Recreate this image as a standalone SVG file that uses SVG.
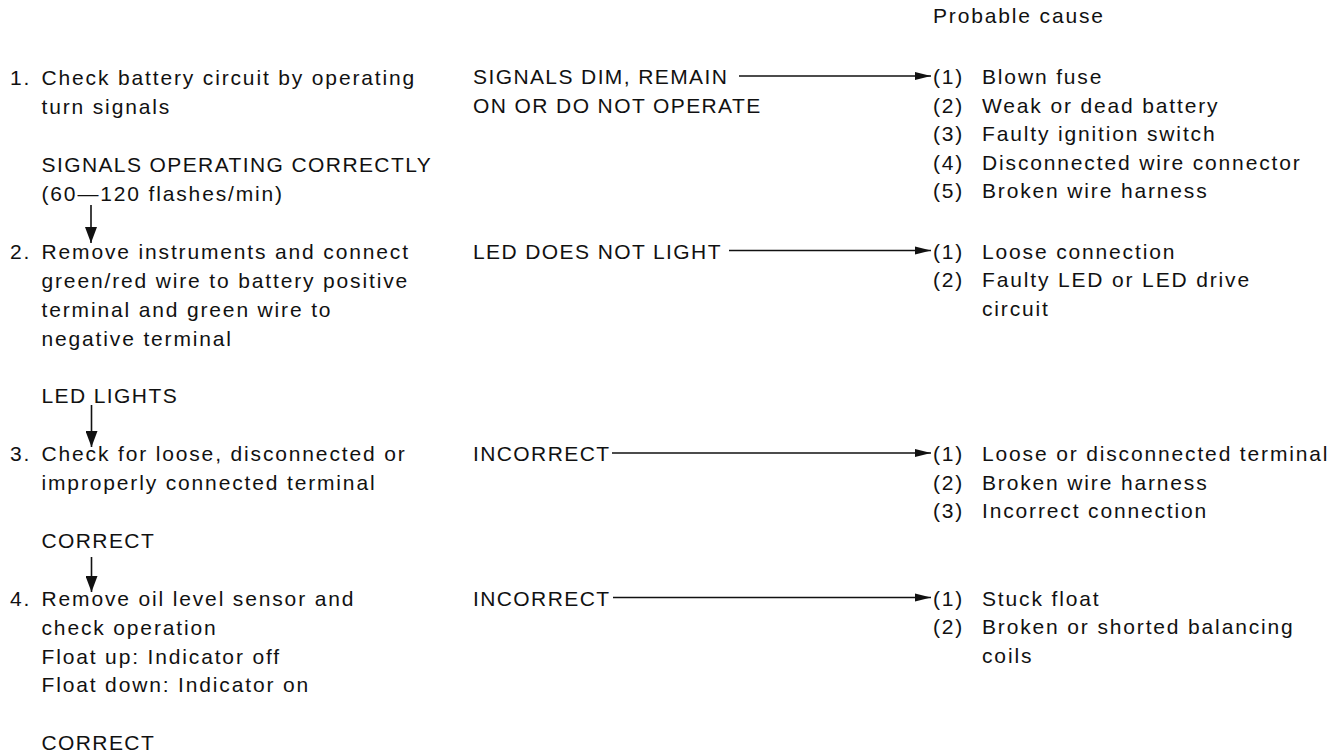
<svg xmlns="http://www.w3.org/2000/svg" width="1342" height="756" viewBox="0 0 1342 756">
<style>
text{font-family:"Liberation Sans",Arial,Helvetica,sans-serif;font-size:21px;letter-spacing:1.85px;fill:#111}
text.u{letter-spacing:1.4px}
.ln{stroke:#111;stroke-width:1.6;fill:none}
</style>
<defs>
<marker id="ah" viewBox="0 0 16 10" refX="16" refY="5" markerWidth="16" markerHeight="10" markerUnits="userSpaceOnUse" orient="auto">
<path d="M0,1 L16,5 L0,9 Z" fill="#111"/>
</marker>
<marker id="av" viewBox="0 0 16 12" refX="16" refY="6" markerWidth="16" markerHeight="12" markerUnits="userSpaceOnUse" orient="auto">
<path d="M0,0 L16,6 L0,12 Z" fill="#111"/>
</marker>
</defs>
<rect width="1342" height="756" fill="#fff"/>

<g id="header"><text x="933" y="23">Probable cause</text></g>

<g id="step1">
<text x="10" y="85">1.</text>
<text x="41.5" y="85">Check battery circuit by operating</text>
<text x="41.5" y="114">turn signals</text>
</g>
<g id="ok1">
<text class="u" x="41.5" y="172">SIGNALS OPERATING CORRECTLY</text>
<text x="41.5" y="201">(60—120 flashes/min)</text>
</g>
<g id="step2">
<text x="10" y="258.5">2.</text>
<text x="41.5" y="258.5">Remove instruments and connect</text>
<text x="41.5" y="287.5">green/red wire to battery positive</text>
<text x="41.5" y="316.5">terminal and green wire to</text>
<text x="41.5" y="345.5">negative terminal</text>
</g>
<g id="ok2"><text class="u" x="41.5" y="403.4">LED LIGHTS</text></g>
<g id="step3">
<text x="10" y="461.2">3.</text>
<text x="41.5" y="461.2">Check for loose, disconnected or</text>
<text x="41.5" y="490.1">improperly connected terminal</text>
</g>
<g id="ok3"><text class="u" x="41.5" y="548">CORRECT</text></g>
<g id="step4">
<text x="10" y="606">4.</text>
<text x="41.5" y="606">Remove oil level sensor and</text>
<text x="41.5" y="634.8">check operation</text>
<text x="41.5" y="663.6">Float up: Indicator off</text>
<text x="41.5" y="692.4">Float down: Indicator on</text>
</g>
<g id="ok4"><text class="u" x="41.5" y="750.2">CORRECT</text></g>

<g id="fail1">
<text class="u" x="473" y="84">SIGNALS DIM, REMAIN</text>
<text class="u" x="473" y="112.5">ON OR DO NOT OPERATE</text>
</g>
<g id="fail2"><text class="u" x="473" y="258.5">LED DOES NOT LIGHT</text></g>
<g id="fail3"><text class="u" x="473" y="461">INCORRECT</text></g>
<g id="fail4"><text class="u" x="473" y="605.5">INCORRECT</text></g>

<g id="cause1">
<text x="933" y="84">(1)</text><text x="982" y="84">Blown fuse</text>
<text x="933" y="112.5">(2)</text><text x="982" y="112.5">Weak or dead battery</text>
<text x="933" y="141">(3)</text><text x="982" y="141">Faulty ignition switch</text>
<text x="933" y="169.5">(4)</text><text x="982" y="169.5">Disconnected wire connector</text>
<text x="933" y="198">(5)</text><text x="982" y="198">Broken wire harness</text>
</g>
<g id="cause2">
<text x="933" y="258.5">(1)</text><text x="982" y="258.5">Loose connection</text>
<text x="933" y="287">(2)</text><text x="982" y="287">Faulty LED or LED drive</text>
<text x="982" y="315.5">circuit</text>
</g>
<g id="cause3">
<text x="933" y="461">(1)</text><text x="982" y="461">Loose or disconnected terminal</text>
<text x="933" y="489.5">(2)</text><text x="982" y="489.5">Broken wire harness</text>
<text x="933" y="518">(3)</text><text x="982" y="518">Incorrect connection</text>
</g>
<g id="cause4">
<text x="933" y="605.5">(1)</text><text x="982" y="605.5">Stuck float</text>
<text x="933" y="634">(2)</text><text x="982" y="634">Broken or shorted balancing</text>
<text x="982" y="662.5">coils</text>
</g>

<g id="connectors">
<line class="ln" x1="739" y1="76" x2="931" y2="76" marker-end="url(#ah)"/>
<line class="ln" x1="729" y1="250.5" x2="931" y2="250.5" marker-end="url(#ah)"/>
<line class="ln" x1="612" y1="453" x2="931" y2="453" marker-end="url(#ah)"/>
<line class="ln" x1="613" y1="597.5" x2="931" y2="597.5" marker-end="url(#ah)"/>
<line class="ln" x1="91" y1="205" x2="91" y2="243" marker-end="url(#av)"/>
<line class="ln" x1="91.5" y1="405" x2="91.5" y2="447" marker-end="url(#av)"/>
<line class="ln" x1="91.5" y1="557" x2="91.5" y2="592" marker-end="url(#av)"/>
</g>
</svg>
